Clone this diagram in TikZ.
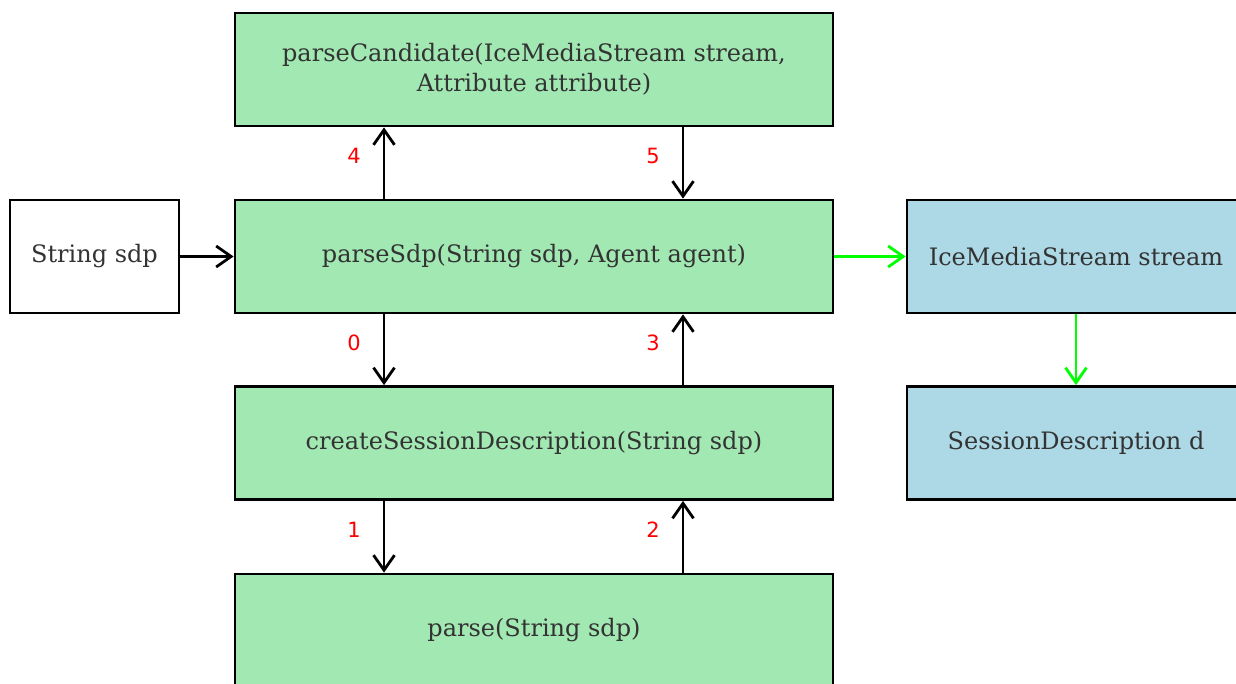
\documentclass[tikz,border=0pt]{standalone}
\usepackage{fontspec}
\setmainfont{DejaVu Serif}
\newfontfamily\lblfont{DejaVu Sans}
\usetikzlibrary{arrows.meta}
\definecolor{boxgreen}{HTML}{A2E8B3}
\definecolor{boxblue}{HTML}{ADD8E6}
\definecolor{txtgray}{HTML}{333333}
\definecolor{brightgreen}{HTML}{00FF00}
\tikzset{
  box/.style={draw=black, line width=2.8pt, minimum height=113pt, inner sep=0pt, align=center, text=txtgray, font=\fontsize{24}{30}\selectfont},
  gbox/.style={box, fill=boxgreen, minimum width=598pt},
  bbox/.style={box, fill=boxblue, minimum width=338pt},
  wbox/.style={box, fill=white, minimum width=169pt},
  conn/.style={line width=2.8pt, -{Straight Barb[length=15pt, width=21pt, line width=2.8pt]}},
  gconn/.style={conn, draw=brightgreen},
  lbl/.style={text=red, font=\lblfont\fontsize{21}{24}\selectfont, xshift=-30pt, yshift=7pt}
}
\begin{document}
\begin{tikzpicture}[x=1pt, y=-1pt]
\useasboundingbox (0,0) rectangle (1236,684);
\begin{scope}
\clip (0,0) rectangle (1236,684);
\node[gbox] (cand) at (534,69.5) {parseCandidate(IceMediaStream stream,\\Attribute attribute)};
\node[wbox] (str) at (94.5,256.5) {String sdp};
\node[gbox] (sdp) at (534,256.5) {parseSdp(String sdp, Agent agent)};
\node[bbox] (ice) at (1076,256.5) {IceMediaStream stream};
\node[gbox] (csd) at (534,443) {createSessionDescription(String sdp)};
\node[bbox] (sd) at (1076,443) {SessionDescription d};
\node[gbox] (parse) at (534,630.5) {parse(String sdp)};

\draw[conn] (str.east) -- (sdp.west);
\draw[gconn] (sdp.east) -- (ice.west);
\draw[gconn] (ice.south) -- (sd.north);

\draw[conn] ([xshift=-150pt]sdp.north) -- node[lbl] {4} ([xshift=-150pt]cand.south);
\draw[conn] ([xshift=149pt]cand.south) -- node[lbl] {5} ([xshift=149pt]sdp.north);
\draw[conn] ([xshift=-150pt]sdp.south) -- node[lbl] {0} ([xshift=-150pt]csd.north);
\draw[conn] ([xshift=149pt]csd.north) -- node[lbl] {3} ([xshift=149pt]sdp.south);
\draw[conn] ([xshift=-150pt]csd.south) -- node[lbl] {1} ([xshift=-150pt]parse.north);
\draw[conn] ([xshift=149pt]parse.north) -- node[lbl] {2} ([xshift=149pt]csd.south);
\end{scope}
\end{tikzpicture}
\end{document}
